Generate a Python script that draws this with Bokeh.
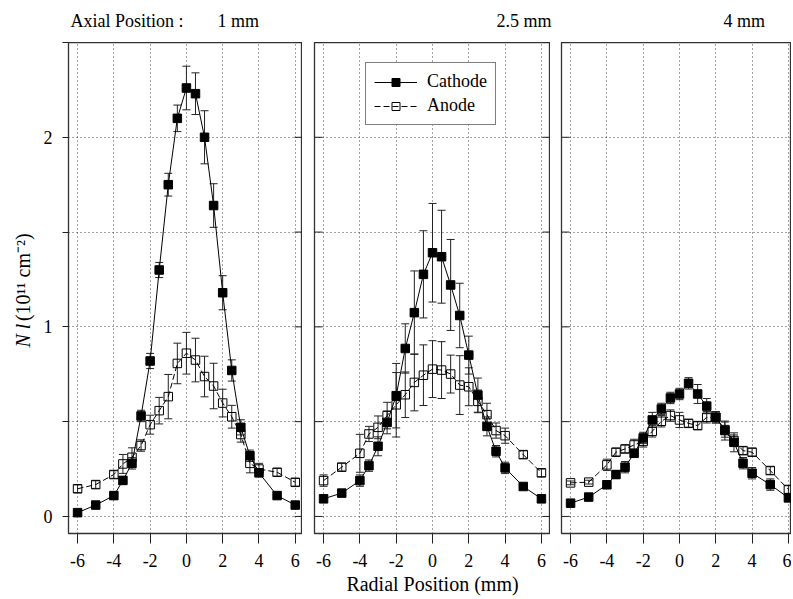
import numpy as np
from math import pi
from bokeh.plotting import figure
from bokeh.models import (ColumnDataSource, Whisker, TeeHead, FixedTicker, Range1d,
                          Legend, LegendItem)
from bokeh.layouts import row, column
from bokeh.embed import file_html
from bokeh.resources import INLINE
from bokeh.core.properties import value

# ---------------- data ----------------
radial = [-6, -5, -4, -3.5, -3, -2.5, -2, -1.5, -1, -0.5, 0, 0.5, 1, 1.5, 2, 2.5, 3, 3.5, 4, 5, 6]

title_prefix = "Axial Position :"
axial_labels = ["1 mm", "2.5 mm", "4 mm"]
y_title_italic = "N l"
y_title_unit = "(10¹¹ cm⁻²)"
x_title = "Radial Position (mm)"

cathode_1mm = [0.02, 0.06, 0.11, 0.19, 0.28, 0.53, 0.82, 1.30, 1.75, 2.10, 2.26, 2.23, 2.00, 1.64, 1.18, 0.77, 0.47, 0.32, 0.23, 0.11, 0.06]
cathode_err_1mm = [0.01, 0.01, 0.02, 0.02, 0.03, 0.03, 0.04, 0.04, 0.06, 0.07, 0.115, 0.11, 0.14, 0.115, 0.09, 0.056, 0.04, 0.03, 0.02, 0.01, 0.01]
anode_1mm = [0.146, 0.168, 0.221, 0.277, 0.312, 0.374, 0.484, 0.558, 0.632, 0.807, 0.861, 0.825, 0.738, 0.688, 0.598, 0.526, 0.432, 0.28, 0.25, 0.233, 0.18]
anode_err_1mm = [0.02, 0.02, 0.02, 0.05, 0.05, 0.03, 0.05, 0.07, 0.117, 0.107, 0.11, 0.115, 0.107, 0.12, 0.073, 0.06, 0.04, 0.05, 0.03, 0.02, 0.02]

cathode_25mm = [0.093, 0.123, 0.189, 0.268, 0.37, 0.496, 0.637, 0.886, 1.075, 1.277, 1.391, 1.37, 1.221, 1.06, 0.851, 0.64, 0.475, 0.344, 0.256, 0.158, 0.093]
cathode_err_25mm = [0.02, 0.01, 0.03, 0.03, 0.05, 0.06, 0.17, 0.13, 0.22, 0.23, 0.26, 0.245, 0.24, 0.17, 0.10, 0.09, 0.05, 0.03, 0.03, 0.01, 0.02]
anode_25mm = [0.189, 0.26, 0.333, 0.435, 0.47, 0.532, 0.589, 0.642, 0.707, 0.745, 0.777, 0.772, 0.751, 0.693, 0.684, 0.607, 0.537, 0.453, 0.426, 0.326, 0.230]
anode_err_25mm = [0.03, 0.02, 0.10, 0.04, 0.06, 0.07, 0.17, 0.12, 0.15, 0.16, 0.15, 0.15, 0.10, 0.155, 0.10, 0.06, 0.06, 0.04, 0.04, 0.02, 0.02]

cathode_4mm = [0.07, 0.102, 0.167, 0.221, 0.26, 0.333, 0.414, 0.509, 0.567, 0.625, 0.646, 0.702, 0.646, 0.582, 0.523, 0.453, 0.391, 0.281, 0.228, 0.168, 0.098]
cathode_err_4mm = [0.01, 0.01, 0.01, 0.02, 0.03, 0.02, 0.03, 0.04, 0.03, 0.03, 0.03, 0.03, 0.05, 0.04, 0.03, 0.05, 0.05, 0.03, 0.03, 0.03, 0.02]
anode_4mm = [0.177, 0.181, 0.272, 0.339, 0.356, 0.377, 0.396, 0.449, 0.502, 0.532, 0.509, 0.491, 0.479, 0.523, 0.523, 0.458, 0.40, 0.347, 0.339, 0.242, 0.142]
anode_err_4mm = [0.01, 0.01, 0.03, 0.02, 0.02, 0.03, 0.03, 0.03, 0.03, 0.03, 0.04, 0.02, 0.02, 0.03, 0.03, 0.04, 0.03, 0.02, 0.02, 0.02, 0.02]

x_ticks = [-6, -4, -2, 0, 2, 4, 6]
x_tick_labels = ["-6", "-4", "-2", "0", "2", "4", "6"]
y_ticks = [0, 0.5, 1, 1.5, 2, 2.5]
y_tick_labels = ["0", "", "1", "", "2", ""]

# ---------------- layout / style ----------------
FONT = "Liberation Serif"
FRAME_H = 491
TOP_H = 42
BOTTOM_B = 62
YLAB_W = 36
Y0, Y1 = -0.09, 2.5
X0 = -6.5
TICK_COLOR = "#222222"


def whiskers(p, vals, errs, color):
    v = np.array(vals)
    e = np.array(errs)
    src = ColumnDataSource(dict(x=radial, upper=v + e, lower=v - e))
    w = Whisker(base="x", upper="upper", lower="lower", source=src,
                line_color=color, line_width=1,
                upper_head=TeeHead(size=8, line_color=color, line_width=1),
                lower_head=TeeHead(size=8, line_color=color, line_width=1),
                level="underlay")
    p.add_layout(w)


def inner_ticks(p, x_edge, fw, x_end, direction):
    # short tick marks pointing into the frame from a vertical edge (8 px long)
    length = 8 * (x_end - X0) / fw
    x_other = x_edge + direction * length
    p.segment(x0=[x_edge] * len(y_ticks), y0=y_ticks,
              x1=[x_other] * len(y_ticks), y1=y_ticks,
              line_color=TICK_COLOR, line_width=1)


def make_panel(idx, cath, cath_err, anod, anod_err, x_end, fw, bl):
    p = figure(frame_width=fw, frame_height=FRAME_H,
               min_border_left=bl, min_border_right=0,
               min_border_top=0, min_border_bottom=BOTTOM_B,
               x_range=Range1d(X0, x_end), y_range=Range1d(Y0, Y1),
               y_axis_location="left" if idx == 0 else None,
               output_backend="svg", toolbar_location=None,
               background_fill_color="white", border_fill_color="white")
    p.outline_line_color = "#333333"
    p.outline_line_width = 1.3

    # grids
    p.xgrid.ticker = FixedTicker(ticks=x_ticks)
    p.ygrid.ticker = FixedTicker(ticks=y_ticks)
    for g in (p.xgrid, p.ygrid):
        g.grid_line_color = "#444444"
        g.grid_line_dash = "1 3"
        g.grid_line_width = 1

    # x axis
    xa = p.xaxis[0]
    xa.ticker = FixedTicker(ticks=x_ticks)
    xa.major_label_overrides = {t: l for t, l in zip(x_ticks, x_tick_labels)}
    xa.axis_line_color = None
    xa.major_tick_in = 0
    xa.major_tick_out = 10
    xa.major_tick_line_color = TICK_COLOR
    xa.minor_tick_line_color = None
    xa.major_label_standoff = 10
    xa.major_label_text_font = FONT
    xa.major_label_text_font_size = "18px"
    xa.major_label_text_color = "black"

    if idx == 0:
        ya = p.yaxis[0]
        ya.ticker = FixedTicker(ticks=y_ticks)
        ya.major_label_overrides = {t: l for t, l in zip(y_ticks, y_tick_labels)}
        ya.axis_line_color = None
        ya.minor_tick_line_color = None
        ya.major_tick_line_color = TICK_COLOR
        ya.major_tick_in = 0
        ya.major_tick_out = 6
        ya.major_label_standoff = 10
        ya.major_label_text_font = FONT
        ya.major_label_text_font_size = "18px"
        ya.major_label_text_color = "black"
    else:
        inner_ticks(p, X0, fw, x_end, +1)
    if idx < 2:
        inner_ticks(p, x_end, fw, x_end, -1)

    # data
    whiskers(p, cath, cath_err, TICK_COLOR)
    whiskers(p, anod, anod_err, TICK_COLOR)
    la = p.line(radial, anod, line_color="black", line_width=1, line_dash="6 3")
    lc = p.line(radial, cath, line_color="black", line_width=1)
    sa = p.scatter(radial, anod, marker="square", size=8.5, fill_color=None,
                   line_color="black", line_width=1)
    sc = p.scatter(radial, cath, marker="square", size=8.5, fill_color="black",
                   line_color="black", line_width=1)
    return p, (lc, sc, la, sa)


p1, r1 = make_panel(0, cathode_1mm, cathode_err_1mm, anode_1mm, anode_err_1mm, 6.4, 234, 32)
p2, r2 = make_panel(1, cathode_25mm, cathode_err_25mm, anode_25mm, anode_err_25mm, 6.5, 236, 12)
p3, r3 = make_panel(2, cathode_4mm, cathode_err_4mm, anode_4mm, anode_err_4mm, 6.17, 230, 11)

# x axis title
p2.xaxis[0].axis_label = x_title
p2.xaxis[0].axis_label_text_font = FONT
p2.xaxis[0].axis_label_text_font_size = "20px"
p2.xaxis[0].axis_label_text_font_style = "normal"
p2.xaxis[0].axis_label_text_color = "black"
p2.xaxis[0].axis_label_standoff = 3

# legend
lc, sc, la, sa = r2
legend = Legend(items=[LegendItem(label="Cathode", renderers=[lc, sc]),
                       LegendItem(label="Anode", renderers=[la, sa])],
                location=(51, 408))
legend.border_line_color = "black"
legend.border_line_width = 1
legend.background_fill_color = "white"
legend.background_fill_alpha = 1
legend.label_text_font = FONT
legend.label_text_font_size = "18px"
legend.label_text_color = "black"
legend.glyph_width = 43
legend.glyph_height = 20
legend.label_standoff = 10
legend.spacing = 3
legend.padding = 8
legend.margin = 0
p2.add_layout(legend)

PANEL_H = FRAME_H + BOTTOM_B
TOTAL_W = YLAB_W + (32 + 234) + (12 + 236) + (11 + 230)


def blank_fig(w, h):
    f = figure(width=w, height=h, min_border=0, x_range=Range1d(0, w), y_range=Range1d(0, h),
               x_axis_location=None, y_axis_location=None,
               output_backend="svg", toolbar_location=None,
               background_fill_color="white", border_fill_color="white")
    f.outline_line_color = None
    f.xgrid.visible = False
    f.ygrid.visible = False
    return f


# header strip with the panel titles (pixel coordinates of the strip)
header = blank_fig(TOTAL_W, TOP_H)
title_texts = [title_prefix] + axial_labels
title_left_px = [70, 217, 496, 723]
header.text(x=title_left_px, y=[TOP_H - 20.5] * len(title_texts), text=title_texts,
            text_align="left", text_baseline="middle",
            text_font=value(FONT), text_font_size="18px", text_color="black")

# left strip with the y-axis title (rotated)
ylab = blank_fig(YLAB_W, PANEL_H)
ylab_base = 208
ylab.text(x=[22.5], y=[ylab_base], text=[y_title_italic], angle=pi / 2,
          text_align="left", text_baseline="middle",
          text_font=value(FONT), text_font_size="20px", text_font_style="italic", text_color="black")
ylab.text(x=[22.5], y=[ylab_base + 30], text=[y_title_unit], angle=pi / 2,
          text_align="left", text_baseline="middle",
          text_font=value(FONT), text_font_size="20px", text_color="black")

layout = column(header, row(ylab, p1, p2, p3))
open("out.html", "w").write(file_html(layout, INLINE))
